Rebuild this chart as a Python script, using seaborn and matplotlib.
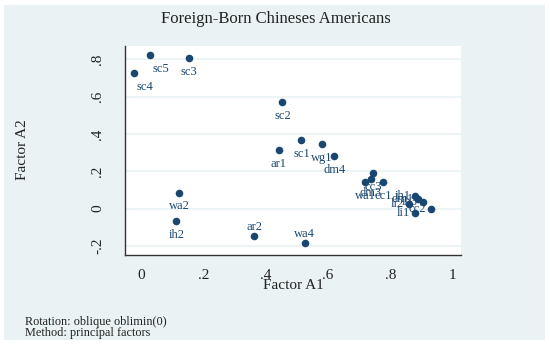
import pandas as pd
import numpy as np
import matplotlib
matplotlib.use('Agg')
import matplotlib.pyplot as plt
import seaborn as sns
from matplotlib.patches import Rectangle

# Factor loadings
names = ['sc4', 'sc5', 'sc3', 'sc2', 'ar1', 'sc1', 'wg1', 'dm4', 'wa2', 'ih2',
         'ar2', 'wa4', 'cc3', 'dm3', 'wa1', 'cc1',
         'ih1', 'dm1', 'ih3', 'li2', 'li1', 'cc2']
factor_a1 = [-0.025, 0.027, 0.153, 0.453, 0.441, 0.514, 0.579, 0.619, 0.121, 0.112,
             0.362, 0.525, 0.745, 0.737, 0.719, 0.776,
             0.880, 0.890, 0.904, 0.860, 0.880, 0.931]
factor_a2 = [0.725, 0.825, 0.809, 0.570, 0.313, 0.366, 0.346, 0.284, 0.086, -0.066,
             -0.146, -0.184, 0.193, 0.159, 0.141, 0.143,
             0.068, 0.052, 0.036, 0.023, -0.021, -0.004]

x_ticks = [0, 0.2, 0.4, 0.6, 0.8, 1.0]
x_ticklabels = ['0', '.2', '.4', '.6', '.8', '1']
y_ticks = [-0.2, 0, 0.2, 0.4, 0.6, 0.8]
y_ticklabels = ['-.2', '0', '.2', '.4', '.6', '.8']

# where each marker label sits relative to its point
label_pos = {'sc4': 'below_right', 'sc5': 'below_right', 'ar2': 'above', 'wa4': 'above',
             'ih1': 'left', 'dm1': 'left', 'ih3': 'left', 'li2': 'left',
             'li1': 'left', 'cc2': 'left'}

df = pd.DataFrame({'name': names, 'A1': factor_a1, 'A2': factor_a2})

sns.set_theme(style='white')
plt.rcParams['font.family'] = ['Liberation Serif', 'DejaVu Serif']

navy = '#1a476f'
bg = '#eaf2f3'
text_col = '#222222'

fig = plt.figure(figsize=(5.5, 3.45), dpi=100)
fig.patch.set_facecolor('white')
fig.patches.append(Rectangle((4 / 550, 1 - 340 / 345), 541 / 550, 335 / 345,
                             transform=fig.transFigure, facecolor=bg,
                             edgecolor='none', zorder=-10))

ax = fig.add_axes([125 / 550, 1 - 255.3 / 345, 336.4 / 550, 209.6 / 345])
ax.set_facecolor('white')

sns.scatterplot(data=df, x='A1', y='A2', ax=ax, color=navy, s=30,
                edgecolor=navy, linewidth=0, zorder=3)

offsets = {'below': ((0, -10), 'center'), 'below_right': ((8, -10), 'center'),
           'above': ((0, 6.7), 'center'), 'left': ((-3.6, 0), 'right')}
for _, row in df.iterrows():
    (dx, dy), ha = offsets[label_pos.get(row['name'], 'below')]
    ax.annotate(row['name'], (row['A1'], row['A2']), xytext=(dx, dy),
                textcoords='offset points', ha=ha, va='center',
                fontsize=9, color=navy, zorder=4)

ax.set_xlim(-0.0527, 1.028)
ax.set_ylim(-0.250, 0.873)
ax.set_xticks(x_ticks)
ax.set_xticklabels(x_ticklabels)
ax.set_yticks(y_ticks)
ax.set_yticklabels(y_ticklabels, rotation=90, va='center')

ax.yaxis.grid(True, color=bg, linewidth=1.2)
ax.xaxis.grid(False)
ax.set_axisbelow(True)

for side in ['top', 'right']:
    ax.spines[side].set_visible(False)
for side in ['left', 'bottom']:
    ax.spines[side].set_color('#333333')
    ax.spines[side].set_linewidth(1.0)

ax.tick_params(axis='both', direction='out', length=5, width=1, color='#333333',
               labelsize=11, labelcolor=text_col)
ax.tick_params(axis='x', pad=5)
ax.tick_params(axis='y', pad=10)

ax.set_xlabel('Factor A1', fontsize=11, color=text_col)
ax.xaxis.label.set_va('center')
ax.xaxis.set_label_coords(0.5, -0.142)
ax.set_ylabel('Factor A2', fontsize=11, color=text_col)
ax.yaxis.label.set_va('center')
ax.yaxis.set_label_coords(-0.306, 0.502)

fig.text(0.502, 1 - 19.3 / 345, 'Foreign-Born Chineses Americans', ha='center',
         va='center', fontsize=12, color=text_col)
fig.text(25 / 550, 1 - 322 / 345, 'Rotation: oblique oblimin(0)', ha='left',
         va='center', fontsize=8.8, color=text_col)
fig.text(25 / 550, 1 - 333 / 345, 'Method: principal factors', ha='left',
         va='center', fontsize=8.8, color=text_col)

fig.savefig('out.png', dpi=100, facecolor=fig.get_facecolor())
